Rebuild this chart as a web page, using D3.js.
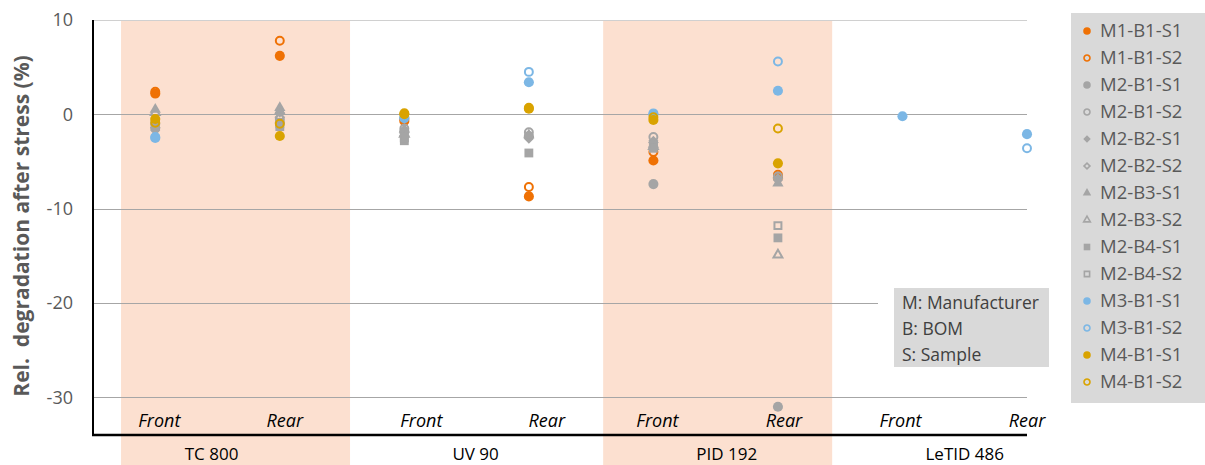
<!DOCTYPE html>
<html>
<head>
<meta charset="utf-8">
<script src="https://cdn.jsdelivr.net/npm/d3@7"></script>
<style>
  body { margin: 0; background: #fff; }
  svg { display: block; font-family: "Open Sans", Lato, sans-serif; }
</style>
</head>
<body>
<svg id="chart"></svg>
<script>
// ---- data ----
const groups = ['TC 800', 'UV 90', 'PID 192', 'LeTID 486']
const sides = ['Front', 'Rear']
const shadedGroups = ['TC 800', 'PID 192']
const yTicks = [10, 0, -10, -20, -30]
const notes = ['M: Manufacturer', 'B: BOM', 'S: Sample']

const seriesNames = ['M1-B1-S1', 'M1-B1-S2', 'M2-B1-S1', 'M2-B1-S2', 'M2-B2-S1', 'M2-B2-S2',
  'M2-B3-S1', 'M2-B3-S2', 'M2-B4-S1', 'M2-B4-S2', 'M3-B1-S1', 'M3-B1-S2', 'M4-B1-S1', 'M4-B1-S2']

// values per series: TC F, TC R, UV F, UV R, PID F, PID R, LeTID F, LeTID R
const m1b1s1 = [2.2, 6.2, -0.7, -8.7, -4.9, -6.7, null, null]
const m1b1s2 = [2.4, 7.8, -0.5, -7.7, -4.0, -6.4, null, null]
const m2b1s1 = [-1.0, -0.9, -1.8, -2.3, -7.4, -31.0, null, null]
const m2b1s2 = [-1.5, -0.5, -1.5, -1.9, -2.4, -6.6, null, null]
const m2b2s1 = [-1.7, 0.2, -2.0, -2.6, -2.8, -7.0, null, null]
const m2b2s2 = [-1.4, -0.3, -2.3, -2.4, -3.0, -6.8, null, null]
const m2b3s1 = [0.5, 0.7, -1.6, -2.2, -3.2, -7.3, null, null]
const m2b3s2 = [0.2, 0.3, -2.1, null, -3.4, -14.9, null, null]
const m2b4s1 = [-1.2, -1.3, -2.8, -4.1, -3.6, -13.1, null, null]
const m2b4s2 = [-0.8, -1.0, -2.5, null, -3.3, -11.8, null, null]
const m3b1s1 = [-2.5, null, -0.4, 3.4, 0.0, 2.5, -0.2, -2.1]
const m3b1s2 = [-2.4, null, -0.3, 4.5, 0.1, 5.6, null, -3.6]
const m4b1s1 = [-0.5, -2.3, 0.1, 0.6, -0.6, -5.2, null, null]
const m4b1s2 = [-0.9, -1.0, 0.0, 0.7, -0.3, -1.5, null, null]

const seriesValues = [m1b1s1, m1b1s2, m2b1s1, m2b1s2, m2b2s1, m2b2s2, m2b3s1, m2b3s2,
  m2b4s1, m2b4s2, m3b1s1, m3b1s2, m4b1s1, m4b1s2]

// ---- style ----
const width = 1205, height = 465
const orange = '#ef7104', grey = '#a5a5a5', blue = '#7cb7e5', gold = '#d9a300'
const seriesStyle = [
  {c: orange, s: 'circle', open: false}, {c: orange, s: 'circle', open: true},
  {c: grey, s: 'circle', open: false}, {c: grey, s: 'circle', open: true},
  {c: grey, s: 'diamond', open: false}, {c: grey, s: 'diamond', open: true},
  {c: grey, s: 'triangle', open: false}, {c: grey, s: 'triangle', open: true},
  {c: grey, s: 'square', open: false}, {c: grey, s: 'square', open: true},
  {c: blue, s: 'circle', open: false}, {c: blue, s: 'circle', open: true},
  {c: gold, s: 'circle', open: false}, {c: gold, s: 'circle', open: true}
]
const sideNudge = [4, 5, 17, 18, 4, 6, -2, 0]
const bandNudge = [18, 0, 2, 0]
const groupNudge = [-6, 9, 11, 0]

const svg = d3.select('#chart').attr('width', width).attr('height', height)

const x = d3.scaleLinear().domain([0.5, 8]).range([93, 1027])
const y = d3.scaleLinear().domain([-34, 10]).range([435, 20])

function symbolPath(shape, open, scale) {
  const k = scale || 1
  let type = d3.symbolCircle, size = 80
  if (shape === 'square') { type = d3.symbolSquare; size = 78 }
  if (shape === 'diamond') { type = d3.symbolSquare; size = 50 }
  if (shape === 'triangle') { type = d3.symbolTriangle; size = 55 }
  if (open) size = size * 0.62
  return d3.symbol().type(type).size(size * k * k)()
}

// shaded bands
groups.forEach((g, k) => {
  if (shadedGroups.indexOf(g) < 0) return
  const cx = x(2 * k + 1.5) + bandNudge[k]
  svg.append('rect')
    .attr('x', cx - 114.5).attr('y', 21)
    .attr('width', 229).attr('height', height - 21)
    .attr('fill', '#fce0d0')
})

// gridlines
svg.append('g').selectAll('line').data(yTicks).enter()
  .append('line')
  .attr('x1', 93).attr('x2', 1027)
  .attr('y1', d => Math.round(y(d)) + 0.5).attr('y2', d => Math.round(y(d)) + 0.5)
  .attr('stroke', d => d === 10 ? '#d0d0d0' : '#a6a6a6')
  .attr('stroke-width', 1)

// y tick labels
svg.append('g').selectAll('text').data(yTicks).enter()
  .append('text')
  .attr('x', 73).attr('y', d => y(d))
  .attr('dy', '0.35em')
  .attr('text-anchor', 'end')
  .attr('font-size', '18px')
  .attr('fill', '#595959')
  .text(d => d)

// y title
svg.append('text')
  .attr('transform', 'translate(29,226) rotate(-90)')
  .attr('text-anchor', 'middle')
  .attr('font-size', '21px')
  .attr('font-weight', 'bold')
  .attr('fill', '#595959')
  .style('white-space', 'pre')
  .text('Rel.  degradation after stress (%)')

// note box
svg.append('rect').attr('x', 878).attr('y', 288).attr('width', 171).attr('height', 79).attr('fill', '#fff')
svg.append('rect').attr('x', 894).attr('y', 288).attr('width', 155).attr('height', 79).attr('fill', '#d9d9d9')
svg.append('g').selectAll('text').data(notes).enter()
  .append('text')
  .attr('x', 902).attr('y', (d, i) => 303 + i * 26)
  .attr('dy', '0.35em')
  .attr('font-size', '17.5px')
  .attr('fill', '#404040')
  .text(d => d)

// points
const pts = []
seriesValues.forEach((vals, si) => {
  vals.forEach((v, i) => {
    if (v !== null) pts.push({si: si, i: i, v: v})
  })
})
svg.append('g').selectAll('path').data(pts).enter()
  .append('path')
  .attr('d', d => symbolPath(seriesStyle[d.si].s, seriesStyle[d.si].open))
  .attr('transform', d => `translate(${x(d.i + 1)},${y(d.v)})` + (seriesStyle[d.si].s === 'diamond' ? ' rotate(45)' : ''))
  .attr('fill', d => seriesStyle[d.si].open ? 'none' : seriesStyle[d.si].c)
  .attr('stroke', d => seriesStyle[d.si].open ? seriesStyle[d.si].c : 'none')
  .attr('stroke-width', 2)

// axes lines
svg.append('line').attr('x1', 93).attr('x2', 93).attr('y1', 20).attr('y2', 436)
  .attr('stroke', '#000').attr('stroke-width', 2)
svg.append('line').attr('x1', 92).attr('x2', 1027).attr('y1', 435).attr('y2', 435)
  .attr('stroke', '#000').attr('stroke-width', 2.5)

// front / rear labels
const sideLabels = d3.range(8).map(i => sides[i % 2])
svg.append('g').selectAll('text').data(sideLabels).enter()
  .append('text')
  .attr('x', (d, i) => x(i + 1) + sideNudge[i])
  .attr('y', 421).attr('dy', '0.35em')
  .attr('text-anchor', 'middle')
  .attr('font-size', '18px')
  .attr('font-style', 'italic')
  .attr('fill', '#000')
  .text(d => d)

// group labels
svg.append('g').selectAll('text').data(groups).enter()
  .append('text')
  .attr('x', (d, k) => x(2 * k + 1.5) + groupNudge[k])
  .attr('y', 454).attr('dy', '0.35em')
  .attr('text-anchor', 'middle')
  .attr('font-size', '17px')
  .attr('fill', '#000')
  .text(d => d)

// legend
svg.append('rect').attr('x', 1071).attr('y', 13).attr('width', 140).attr('height', 390).attr('fill', '#d9d9d9')
const leg = svg.append('g').selectAll('g').data(seriesNames).enter()
  .append('g')
  .attr('transform', (d, i) => `translate(1087,${31 + i * 27})`)
leg.append('path')
  .attr('d', (d, i) => symbolPath(seriesStyle[i].s, seriesStyle[i].open, 0.75))
  .attr('transform', (d, i) => seriesStyle[i].s === 'diamond' ? 'rotate(45)' : null)
  .attr('fill', (d, i) => seriesStyle[i].open ? 'none' : seriesStyle[i].c)
  .attr('stroke', (d, i) => seriesStyle[i].open ? seriesStyle[i].c : 'none')
  .attr('stroke-width', 1.6)
leg.append('text')
  .attr('x', 13).attr('dy', '0.35em')
  .attr('font-size', '18.5px')
  .attr('fill', '#595959')
  .text(d => d)
</script>
</body>
</html>
